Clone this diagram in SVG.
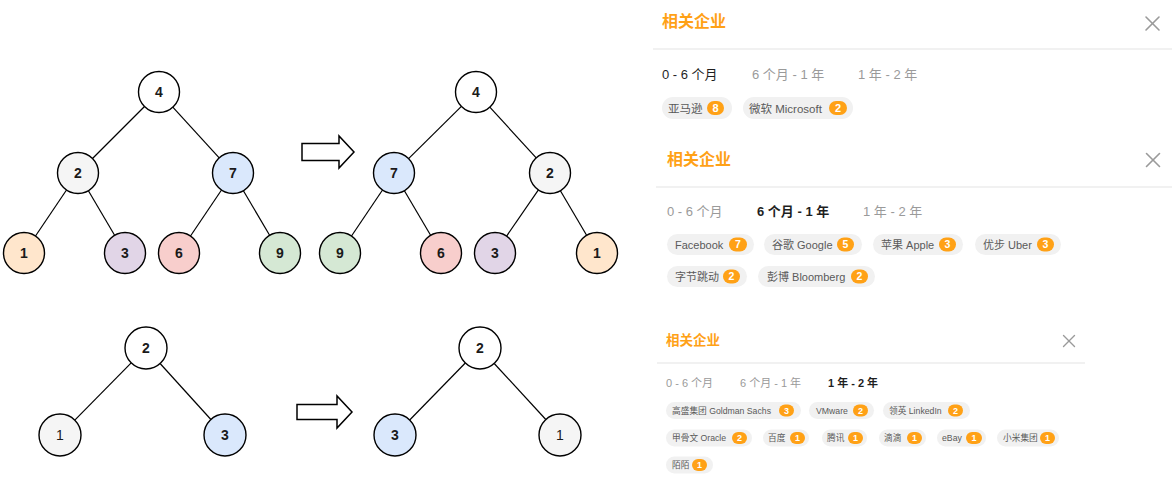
<svg xmlns="http://www.w3.org/2000/svg" width="1172" height="478" viewBox="0 0 1172 478">
<style>
  .node circle{stroke:#000;stroke-width:1.4}
  .node text{font-family:"Liberation Sans",Arial,sans-serif;font-size:14px;font-weight:bold;fill:#1a1a1a;text-anchor:middle}
  .edges line{stroke:#000;stroke-width:1.2}
  .arrow{fill:#fff;stroke:#000;stroke-width:1.5;stroke-linejoin:miter}
  .title{font-family:"Liberation Sans","Noto Sans CJK SC",sans-serif;font-weight:bold;fill:#ffa116}
  .close{stroke:#9a9a9a;stroke-width:1.6;stroke-linecap:round}
  .div{stroke:#ececec;stroke-width:1.5}
  .tab{font-family:"Liberation Sans","Noto Sans CJK SC",sans-serif;fill:#9a9a9a}
  .tab.on{fill:#1f1f1f}
  .pill{fill:#f1f1f1}
  .pt{font-family:"Liberation Sans","Noto Sans CJK SC",sans-serif;fill:#5a5a5a}
  .badge{fill:#ffa116}
  .bt{font-family:"Liberation Sans",Arial,sans-serif;font-weight:bold;fill:#fff;text-anchor:middle}
</style>
<rect width="1172" height="478" fill="#fff"/>

<g class="edges" id="connectors">
  <line x1="144.5" y1="106.5" x2="92.5" y2="158.5"/>
  <line x1="172.8" y1="107.1" x2="219.2" y2="157.9"/>
  <line x1="66.5" y1="190" x2="35.5" y2="236"/>
  <line x1="88.4" y1="190.7" x2="114.6" y2="235.3"/>
  <line x1="221.5" y1="190" x2="190.5" y2="236"/>
  <line x1="243.4" y1="190.7" x2="269.6" y2="235.3"/>
  <line x1="461.4" y1="106.4" x2="408.6" y2="158.6"/>
  <line x1="489.8" y1="107.1" x2="536.2" y2="157.9"/>
  <line x1="382.5" y1="190" x2="351.5" y2="236"/>
  <line x1="404.4" y1="190.7" x2="430.6" y2="235.3"/>
  <line x1="538.4" y1="189.9" x2="506.6" y2="236.1"/>
  <line x1="560.4" y1="190.7" x2="586.6" y2="235.3"/>
  <line x1="131.2" y1="362.9" x2="74.8" y2="420.1"/>
  <line x1="160.1" y1="363.5" x2="210.9" y2="419.5"/>
  <line x1="465.3" y1="363" x2="409.7" y2="420"/>
  <line x1="494.2" y1="363.5" x2="545.8" y2="419.5"/>
</g>

<g id="arrows">
  <polygon class="arrow" points="302,143.5 339,143.5 339,136 354,152 339,168 339,160.5 302,160.5"/>
  <polygon class="arrow" points="297,404.5 337,404.5 337,396 352,412 337,428 337,419.5 297,419.5"/>
</g>

<g class="node" id="tl-4"><circle cx="159" cy="92" r="20.5" fill="#ffffff"/><text x="159" y="97">4</text></g>
<g class="node" id="tl-2"><circle cx="78" cy="173" r="20.5" fill="#f5f5f5"/><text x="78" y="178">2</text></g>
<g class="node" id="tl-7"><circle cx="233" cy="173" r="20.5" fill="#dae8fc"/><text x="233" y="178">7</text></g>
<g class="node" id="tl-1"><circle cx="24" cy="253" r="20.5" fill="#ffe6cc"/><text x="24" y="258">1</text></g>
<g class="node" id="tl-3"><circle cx="125" cy="253" r="20.5" fill="#e1d5e7"/><text x="125" y="258">3</text></g>
<g class="node" id="tl-6"><circle cx="179" cy="253" r="20.5" fill="#f8cecc"/><text x="179" y="258">6</text></g>
<g class="node" id="tl-9"><circle cx="280" cy="253" r="20.5" fill="#d5e8d4"/><text x="280" y="258">9</text></g>

<g class="node" id="tr-4"><circle cx="476" cy="92" r="20.5" fill="#ffffff"/><text x="476" y="97">4</text></g>
<g class="node" id="tr-7"><circle cx="394" cy="173" r="20.5" fill="#dae8fc"/><text x="394" y="178">7</text></g>
<g class="node" id="tr-2"><circle cx="550" cy="173" r="20.5" fill="#f5f5f5"/><text x="550" y="178">2</text></g>
<g class="node" id="tr-9"><circle cx="340" cy="253" r="20.5" fill="#d5e8d4"/><text x="340" y="258">9</text></g>
<g class="node" id="tr-6"><circle cx="441" cy="253" r="20.5" fill="#f8cecc"/><text x="441" y="258">6</text></g>
<g class="node" id="tr-3"><circle cx="495" cy="253" r="20.5" fill="#e1d5e7"/><text x="495" y="258">3</text></g>
<g class="node" id="tr-1"><circle cx="597" cy="253" r="20.5" fill="#ffe6cc"/><text x="597" y="258">1</text></g>

<g class="node" id="bl-2"><circle cx="146" cy="348" r="21" fill="#ffffff"/><text x="146" y="353">2</text></g>
<g class="node" id="bl-1"><circle cx="60" cy="435" r="21" fill="#f5f5f5"/><text x="60" y="440" style="font-weight:normal">1</text></g>
<g class="node" id="bl-3"><circle cx="225" cy="435" r="21" fill="#dae8fc"/><text x="225" y="440">3</text></g>

<g class="node" id="br-2"><circle cx="480" cy="348" r="21" fill="#ffffff"/><text x="480" y="353">2</text></g>
<g class="node" id="br-3"><circle cx="395" cy="435" r="21" fill="#dae8fc"/><text x="395" y="440">3</text></g>
<g class="node" id="br-1"><circle cx="560" cy="435" r="21" fill="#f5f5f5"/><text x="560" y="440" style="font-weight:normal">1</text></g>

<g id="panel1">
  <text class="title" x="662" y="27" font-size="16">相关企业</text>
  <line class="close" x1="1146" y1="17" x2="1159" y2="30"/>
  <line class="close" x1="1159" y1="17" x2="1146" y2="30"/>
  <line class="div" x1="653" y1="49" x2="1172" y2="49"/>
  <text class="tab on" x="662" y="79" font-size="13">0 - 6 个月</text>
  <text class="tab" x="752" y="79" font-size="13">6 个月 - 1 年</text>
  <text class="tab" x="858" y="79" font-size="13">1 年 - 2 年</text>
  <g font-size="11.5">
    <rect class="pill" x="662" y="97" width="70" height="22" rx="11"/>
    <text class="pt" x="668" y="112.5">亚马逊</text>
    <rect class="badge" x="707" y="101" width="17" height="14" rx="7"/>
    <text class="bt" x="715.5" y="112" font-size="11">8</text>
    <rect class="pill" x="743" y="97" width="110" height="22" rx="11"/>
    <text class="pt" x="749" y="112.5">微软 Microsoft</text>
    <rect class="badge" x="829" y="101" width="18" height="14" rx="7"/>
    <text class="bt" x="838" y="112" font-size="11">2</text>
  </g>
</g>

<g id="panel2">
  <text class="title" x="667" y="165" font-size="16">相关企业</text>
  <line class="close" x1="1146.5" y1="153.5" x2="1159.5" y2="166.5"/>
  <line class="close" x1="1159.5" y1="153.5" x2="1146.5" y2="166.5"/>
  <line class="div" x1="656" y1="187" x2="1172" y2="187"/>
  <text class="tab" x="667" y="216" font-size="13">0 - 6 个月</text>
  <text class="tab on" x="757" y="216" font-size="13" font-weight="bold">6 个月 - 1 年</text>
  <text class="tab" x="863" y="216" font-size="13">1 年 - 2 年</text>
  <g font-size="11">
    <rect class="pill" x="667" y="234" width="87" height="21" rx="10.5"/>
    <text class="pt" x="675" y="248.5">Facebook</text>
    <rect class="badge" x="729" y="237.5" width="18" height="14" rx="7"/>
    <text class="bt" x="738" y="248" font-size="10.5">7</text>

    <rect class="pill" x="764" y="234" width="98" height="21" rx="10.5"/>
    <text class="pt" x="772" y="248.5">谷歌 Google</text>
    <rect class="badge" x="837" y="237.5" width="17" height="14" rx="7"/>
    <text class="bt" x="845.5" y="248" font-size="10.5">5</text>

    <rect class="pill" x="873" y="234" width="90" height="21" rx="10.5"/>
    <text class="pt" x="881" y="248.5">苹果 Apple</text>
    <rect class="badge" x="939" y="237.5" width="17" height="14" rx="7"/>
    <text class="bt" x="947.5" y="248" font-size="10.5">3</text>

    <rect class="pill" x="975" y="234" width="86" height="21" rx="10.5"/>
    <text class="pt" x="983" y="248.5">优步 Uber</text>
    <rect class="badge" x="1037" y="237.5" width="17" height="14" rx="7"/>
    <text class="bt" x="1045.5" y="248" font-size="10.5">3</text>

    <rect class="pill" x="667" y="266" width="80" height="21" rx="10.5"/>
    <text class="pt" x="675" y="280.5">字节跳动</text>
    <rect class="badge" x="723" y="269.5" width="17" height="14" rx="7"/>
    <text class="bt" x="731.5" y="280" font-size="10.5">2</text>

    <rect class="pill" x="758" y="266" width="117" height="21" rx="10.5"/>
    <text class="pt" x="767" y="280.5">彭博 Bloomberg</text>
    <rect class="badge" x="851" y="269.5" width="17" height="14" rx="7"/>
    <text class="bt" x="859.5" y="280" font-size="10.5">2</text>
  </g>
</g>

<g id="panel3">
  <text class="title" x="666" y="345" font-size="13.5">相关企业</text>
  <line class="close" x1="1063.5" y1="335.5" x2="1074.5" y2="346.5" style="stroke-width:1.4"/>
  <line class="close" x1="1074.5" y1="335.5" x2="1063.5" y2="346.5" style="stroke-width:1.4"/>
  <line class="div" x1="657" y1="363" x2="1085" y2="363"/>
  <text class="tab" x="666" y="387" font-size="11">0 - 6 个月</text>
  <text class="tab" x="740" y="387" font-size="11">6 个月 - 1 年</text>
  <text class="tab on" x="828" y="387" font-size="11" font-weight="bold">1 年 - 2 年</text>
  <g font-size="8.7">
    <rect class="pill" x="666" y="402" width="135" height="17" rx="8.5"/>
    <text class="pt" x="672" y="413.8">高盛集团 Goldman Sachs</text>
    <rect class="badge" x="779" y="404.5" width="15" height="12" rx="6"/>
    <text class="bt" x="786.5" y="413.8" font-size="9">3</text>

    <rect class="pill" x="809" y="402" width="65" height="17" rx="8.5"/>
    <text class="pt" x="816" y="413.8">VMware</text>
    <rect class="badge" x="853" y="404.5" width="15" height="12" rx="6"/>
    <text class="bt" x="860.5" y="413.8" font-size="9">2</text>

    <rect class="pill" x="883" y="402" width="87" height="17" rx="8.5"/>
    <text class="pt" x="889" y="413.8">领英 LinkedIn</text>
    <rect class="badge" x="948" y="404.5" width="15" height="12" rx="6"/>
    <text class="bt" x="955.5" y="413.8" font-size="9">2</text>

    <rect class="pill" x="666" y="429.5" width="86" height="17" rx="8.5"/>
    <text class="pt" x="672" y="441.3">甲骨文 Oracle</text>
    <rect class="badge" x="732" y="432" width="15" height="12" rx="6"/>
    <text class="bt" x="739.5" y="441.3" font-size="9">2</text>

    <rect class="pill" x="763" y="429.5" width="46" height="17" rx="8.5"/>
    <text class="pt" x="768" y="441.3">百度</text>
    <rect class="badge" x="790" y="432" width="15" height="12" rx="6"/>
    <text class="bt" x="797.5" y="441.3" font-size="9">1</text>

    <rect class="pill" x="822" y="429.5" width="45" height="17" rx="8.5"/>
    <text class="pt" x="827" y="441.3">腾讯</text>
    <rect class="badge" x="848" y="432" width="15" height="12" rx="6"/>
    <text class="bt" x="855.5" y="441.3" font-size="9">1</text>

    <rect class="pill" x="879" y="429.5" width="47" height="17" rx="8.5"/>
    <text class="pt" x="884" y="441.3">滴滴</text>
    <rect class="badge" x="907" y="432" width="15" height="12" rx="6"/>
    <text class="bt" x="914.5" y="441.3" font-size="9">1</text>

    <rect class="pill" x="937" y="429.5" width="49" height="17" rx="8.5"/>
    <text class="pt" x="942" y="441.3">eBay</text>
    <rect class="badge" x="966" y="432" width="16" height="12" rx="6"/>
    <text class="bt" x="974" y="441.3" font-size="9">1</text>

    <rect class="pill" x="997" y="429.5" width="62" height="17" rx="8.5"/>
    <text class="pt" x="1003" y="441.3">小米集团</text>
    <rect class="badge" x="1040" y="432" width="15" height="12" rx="6"/>
    <text class="bt" x="1047.5" y="441.3" font-size="9">1</text>

    <rect class="pill" x="666" y="456.5" width="47" height="17" rx="8.5"/>
    <text class="pt" x="672" y="468.3">陌陌</text>
    <rect class="badge" x="692" y="459" width="15" height="12" rx="6"/>
    <text class="bt" x="699.5" y="468.3" font-size="9">1</text>
  </g>
</g>
</svg>
